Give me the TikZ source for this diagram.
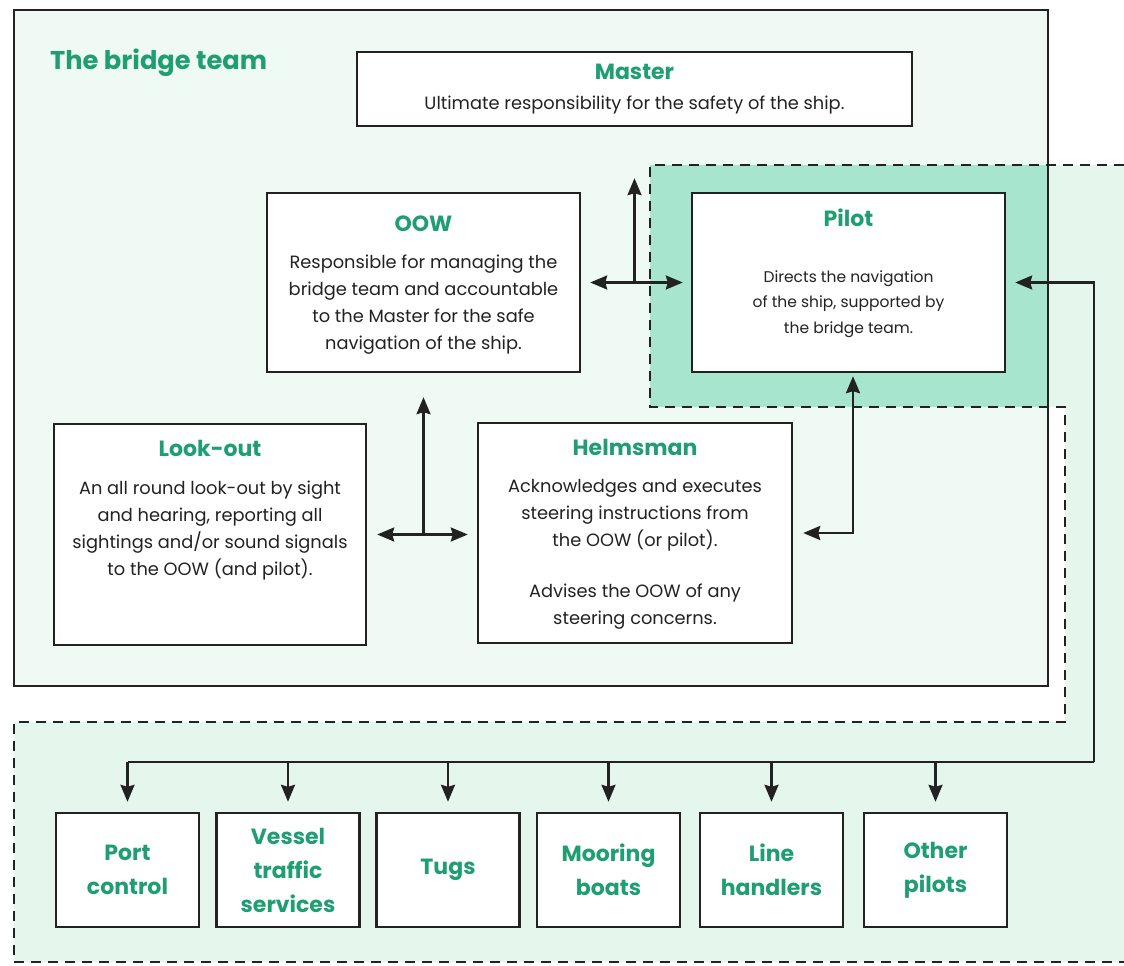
\documentclass[tikz,border=0pt]{standalone}
\usepackage{fontspec}
\setmainfont{Poppins}
\usetikzlibrary{positioning,arrows.meta}

\definecolor{mint}{HTML}{1F9E72}
\definecolor{teamfill}{HTML}{F0FAF5}
\definecolor{outfill}{HTML}{E5F7ED}
\definecolor{pilotfill}{HTML}{A8E5CE}
\definecolor{ink}{HTML}{222222}

\begin{document}
\begin{tikzpicture}[x=1pt,y=-1pt,
  role/.style={draw=ink,line width=2.4pt,fill=white,inner sep=0pt,minimum width=313pt},
  party/.style={draw=ink,line width=2.4pt,fill=white,inner sep=0pt,minimum width=143pt,minimum height=114pt,
    text=mint,align=center,font=\fontsize{22}{34}\selectfont\bfseries},
  rolehead/.style={text=mint,inner sep=0pt,anchor=base,font=\fontsize{22}{28}\selectfont\bfseries},
  blurb/.style={text=ink,inner sep=0pt,align=center,font=\fontsize{17.8}{27}\selectfont},
  wire/.style={draw=ink,line width=2.4pt},
  dashline/.style={draw=ink,line width=2.4pt,dash pattern=on 10pt off 7pt},
  onearrow/.style={-{Stealth[length=17pt,width=14pt,inset=2pt]}},
  twoarrow/.style={{Stealth[length=17pt,width=14pt,inset=2pt]}-{Stealth[length=17pt,width=14pt,inset=2pt]}}]
\useasboundingbox (0,0) rectangle (1124,966);

\fill[teamfill] (14,10) rectangle (1048,686);
\fill[outfill] (650,165) -- (1124,165) -- (1124,962) -- (14,962) -- (14,722) -- (1065,722) -- (1065,407) -- (650,407) -- cycle;
\fill[pilotfill] (650,165) rectangle (1048,407);
\draw[wire] (14,10) rectangle (1048,686);
\draw[dashline] (1124,165) -- (650,165) -- (650,407) -- (1065,407) -- (1065,722) -- (14,722) -- (14,962) -- (1124,962);

\node[rolehead,anchor=base west,font=\fontsize{25.7}{32}\selectfont\bfseries] (teamtitle) at (50,70) {The bridge team};

\node[role,minimum width=555pt,minimum height=74pt] (master) at (634.5,89) {};
\node[role,minimum height=179pt] (oow) at (423.5,282.5) {};
\node[role,minimum height=179pt] (pilot) at (848.5,282.5) {};
\node[role,minimum width=312pt,minimum height=221pt] (lookout) at (210,534.5) {};
\node[role,minimum width=314pt,minimum height=220pt] (helm) at (635,533) {};

\node[rolehead] (masterhead) at ([yshift=-29pt]master.north) {Master};
\node[rolehead] (oowhead) at ([yshift=-40pt]oow.north) {OOW};
\node[rolehead] (pilothead) at ([yshift=-35pt]pilot.north) {Pilot};
\node[rolehead] (lookouthead) at ([yshift=-34pt]lookout.north) {Look-out};
\node[rolehead] (helmhead) at ([yshift=-34pt]helm.north) {Helmsman};

\node[blurb,anchor=base] (masterbody) at ([yshift=-59pt]master.north) {Ultimate responsibility for the safety of the ship.};
\node[blurb,below=23pt of oowhead] (oowbody) {Responsible for managing the\\bridge team and accountable\\to the Master for the safe\\navigation of the ship.};
\node[blurb,below=43pt of pilothead,font=\fontsize{15.5}{25.5}\selectfont] (pilotbody) {Directs the navigation\\of the ship, supported by\\the bridge team.};
\node[blurb,below=24pt of lookouthead] (lookoutbody) {An all round look-out by sight\\and hearing, reporting all\\sightings and/or sound signals\\to the OOW (and pilot).};
\node[blurb,below=23pt of helmhead] (helmbody) {Acknowledges and executes\\steering instructions from\\the OOW (or pilot).};
\node[blurb,anchor=north] (helmbody2) at ([yshift=-162pt]helm.north) {Advises the OOW of any\\steering concerns.};

\node[party] (port) at (127.5,870) {Port\\control};
\node[party] (vts) at (288,870) {Vessel\\traffic\\services};
\node[party] (tugs) at (448,870) {Tugs};
\node[party] (mooring) at (608.5,870) {Mooring\\boats};
\node[party] (lines) at (771.5,870) {Line\\handlers};
\node[party] (others) at (935.5,870) {Other\\pilots};

\coordinate (hub) at (oow.east -| master.south);
\draw[wire,onearrow] (hub) -- ([yshift=-51pt]master.south);
\draw[wire,twoarrow,shorten <=9pt,shorten >=8pt] (oow.east) -- (pilot.west);

\coordinate (hub2) at (oow.south |- lookout.east);
\draw[wire,onearrow] (hub2) -- ([yshift=-24pt]oow.south);
\draw[wire,twoarrow,shorten <=10pt,shorten >=9pt] (lookout.east) -- (lookout.east -| helm.west);

\draw[wire,twoarrow,shorten <=3pt,shorten >=10pt] ([xshift=4.5pt]pilot.south) |- (helm.east);

\coordinate (busend) at (1094,762);
\draw[wire,onearrow,shorten >=9pt] (busend) |- (pilot.east);
\draw[wire] (busend) -- (busend -| port.north);
\draw[wire,onearrow,shorten >=10pt] (busend -| port.north) -- (port.north);
\draw[wire,onearrow,shorten >=10pt] (busend -| vts.north) -- (vts.north);
\draw[wire,onearrow,shorten >=10pt] (busend -| tugs.north) -- (tugs.north);
\draw[wire,onearrow,shorten >=10pt] (busend -| mooring.north) -- (mooring.north);
\draw[wire,onearrow,shorten >=10pt] (busend -| lines.north) -- (lines.north);
\draw[wire,onearrow,shorten >=10pt] (busend -| others.north) -- (others.north);
\end{tikzpicture}
\end{document}
